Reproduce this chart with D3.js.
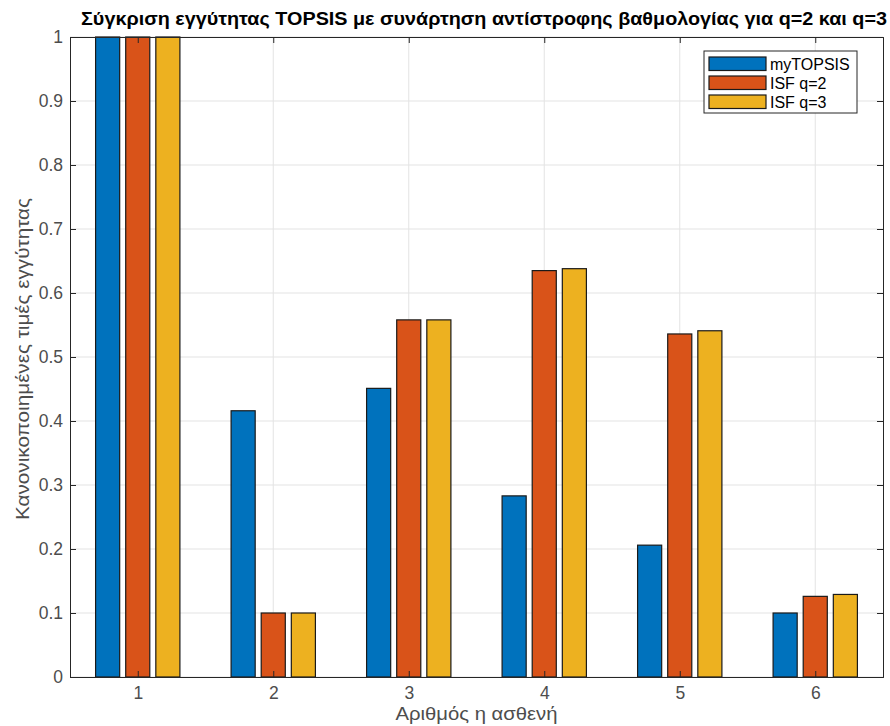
<!DOCTYPE html>
<html>
<head>
<meta charset="utf-8">
<script src="https://cdn.jsdelivr.net/npm/d3@7"></script>
<style>
  html, body { margin: 0; padding: 0; background: #fff; }
  svg { display: block; font-family: "Liberation Sans", Arial, Helvetica, sans-serif; }
</style>
</head>
<body>
<svg id="chart" width="890" height="726"></svg>
<script>
// Patients and closeness values per method
const patients = [1, 2, 3, 4, 5, 6];
const seriesNames = ["myTOPSIS", "ISF q=2", "ISF q=3"];
const myTOPSIS = [1.0, 0.416, 0.451, 0.283, 0.206, 0.100];
const isfQ2    = [1.0, 0.100, 0.558, 0.635, 0.536, 0.126];
const isfQ3    = [1.0, 0.100, 0.558, 0.638, 0.541, 0.129];
const yTicks = [0, 0.1, 0.2, 0.3, 0.4, 0.5, 0.6, 0.7, 0.8, 0.9, 1];
const colors = ["#0072BD", "#D95319", "#EDB120"];

const titleText = "Σύγκριση εγγύτητας TOPSIS με συνάρτηση αντίστροφης βαθμολογίας για q=2 και q=3";
const xLabelText = "Αριθμός η ασθενή";
const yLabelText = "Κανονικοποιημένες τιμές εγγύτητας";

const series = [myTOPSIS, isfQ2, isfQ3];

const svg = d3.select("#chart");
const m = { left: 70, right: 883, top: 37, bottom: 677 };
const axisColor = "#262626";
const tickColor = "#4d4d4d";

const x = d3.scaleLinear().domain([0.5, 6.5]).range([m.left, m.right]);
const y = d3.scaleLinear().domain([0, 1]).range([m.bottom, m.top]);

// grouped-bar geometry (three bars per group)
const groupWidth = Math.min(0.8, 3 / (3 + 1.5));
const step = groupWidth / 3;
const barW = step * 0.8;

// grid
const grid = svg.append("g");
grid.selectAll("line.h").data(yTicks).join("line")
  .attr("x1", m.left).attr("x2", m.right)
  .attr("y1", d => y(d)).attr("y2", d => y(d))
  .attr("stroke", "#e3e3e3").attr("stroke-width", 1);
grid.selectAll("line.v").data(patients).join("line")
  .attr("y1", m.top).attr("y2", m.bottom)
  .attr("x1", d => x(d)).attr("x2", d => x(d))
  .attr("stroke", "#e3e3e3").attr("stroke-width", 1);

// bars
series.forEach((vals, s) => {
  const off = (s - 1) * step;
  svg.append("g").selectAll("rect").data(vals).join("rect")
    .attr("x", (d, i) => x(patients[i] + off - barW / 2))
    .attr("width", (d, i) => x(patients[i] + off + barW / 2) - x(patients[i] + off - barW / 2))
    .attr("y", d => y(d))
    .attr("height", d => y(0) - y(d))
    .attr("fill", colors[s])
    .attr("stroke", "#1a1a1a")
    .attr("stroke-width", 1.2);
});

// axes: bottom/left with labels, top/right as box with inward ticks
const tickLen = 6;
const xAxis = d3.axisBottom(x).tickValues(patients).tickSize(-tickLen).tickPadding(10).tickFormat(d3.format("d"));
const yAxis = d3.axisLeft(y).tickValues(yTicks).tickSize(-tickLen).tickPadding(7).tickFormat(d => d === 0 ? "0" : d === 1 ? "1" : d3.format(".1f")(d));

const gx = svg.append("g").attr("transform", `translate(0,${m.bottom})`).call(xAxis);
const gy = svg.append("g").attr("transform", `translate(${m.left},0)`).call(yAxis);
const gxt = svg.append("g").attr("transform", `translate(0,${m.top})`).call(d3.axisTop(x).tickValues(patients).tickSize(-tickLen).tickFormat(""));
const gyr = svg.append("g").attr("transform", `translate(${m.right},0)`).call(d3.axisRight(y).tickValues(yTicks).tickSize(-tickLen).tickFormat(""));

[gx, gy, gxt, gyr].forEach(g => {
  g.select(".domain").attr("stroke", axisColor).attr("stroke-width", 1);
  g.selectAll(".tick line").attr("stroke", axisColor).attr("stroke-width", 1);
  g.selectAll(".tick text").attr("fill", tickColor).attr("font-size", 17.5)
    .attr("font-family", "Liberation Sans, Arial, sans-serif");
});

// title and axis labels
svg.append("text")
  .attr("x", 484).attr("y", 25)
  .attr("text-anchor", "middle").attr("font-size", 18).attr("font-weight", "bold")
  .attr("textLength", 806).attr("lengthAdjust", "spacingAndGlyphs")
  .attr("fill", "#000").text(titleText);

svg.append("text")
  .attr("x", (m.left + m.right) / 2).attr("y", 720)
  .attr("text-anchor", "middle").attr("font-size", 18.5)
  .attr("textLength", 162).attr("lengthAdjust", "spacingAndGlyphs")
  .attr("fill", tickColor).text(xLabelText);

svg.append("text")
  .attr("transform", `translate(29,359) rotate(-90)`)
  .attr("text-anchor", "middle").attr("font-size", 18.5)
  .attr("textLength", 322).attr("lengthAdjust", "spacingAndGlyphs")
  .attr("fill", tickColor).text(yLabelText);

// legend
const lg = svg.append("g").attr("transform", "translate(704,51)");
lg.append("rect").attr("width", 153).attr("height", 62)
  .attr("fill", "#fff").attr("stroke", "#262626").attr("stroke-width", 1);
seriesNames.forEach((name, i) => {
  const top = 6 + i * 19;
  lg.append("rect").attr("x", 5).attr("y", top).attr("width", 57).attr("height", 13.5)
    .attr("fill", colors[i]).attr("stroke", "#1a1a1a").attr("stroke-width", 1.2);
  lg.append("text").attr("x", 66).attr("y", top + 12.5).attr("font-size", 16)
    .attr("fill", "#000").text(name);
});
</script>
</body>
</html>
